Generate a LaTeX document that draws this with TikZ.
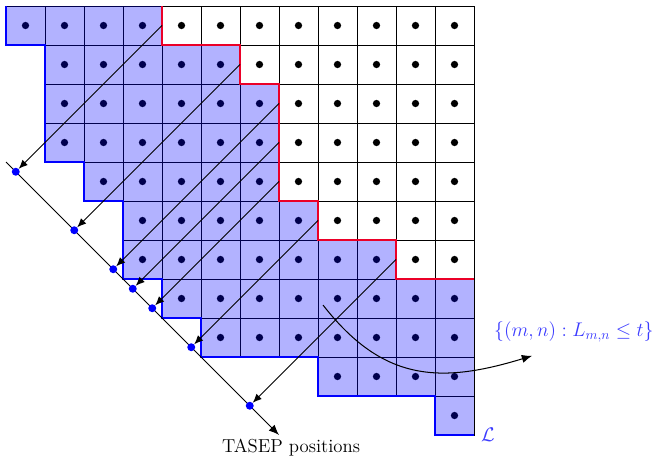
\documentclass[tikz,border=0pt]{standalone}
\usetikzlibrary{calc,arrows.meta}
\definecolor{labelblue}{RGB}{60,60,255}
\definecolor{boundred}{RGB}{235,0,40}
\tikzset{
  cell/.style={draw=black, line width=0.65pt},
  gdot/.style={circle, fill=black, inner sep=0pt, minimum size=5.3pt},
  bdot/.style={circle, fill=blue, inner sep=0pt, minimum size=5.8pt},
  arr/.style={draw=black, line width=0.75pt, -{Latex[length=6.5pt,width=5.5pt]}},
  blueedge/.style={draw=blue, line width=1.1pt},
  rededge/.style={draw=boundred, line width=1.1pt},
  bluelabel/.style={text=labelblue, font=\Large},
}
\begin{document}
\begin{tikzpicture}
\useasboundingbox (-0.154,0.154) rectangle (16.744,-11.564);
% grid of cells with dots
\foreach \j/\s in {0/0,1/1,2/1,3/1,4/2,5/3,6/3,7/4,8/5,9/8,10/11} {
  \foreach \i in {\s,...,11} {
    \draw[cell] (\i,-\j) rectangle ++(1,-1);
    \node[gdot] (g-\i-\j) at (\i+0.5,-\j-0.5) {};
  }
}
% shaded region
\fill[blue, opacity=0.3] (0,0) -- (0,-1) -- (1,-1) -- (1,-4) -- (2,-4) -- (2,-5) -- (3,-5) -- (3,-7) -- (4,-7) -- (4,-8) -- (5,-8) -- (5,-9) -- (8,-9) -- (8,-10) -- (11,-10) -- (11,-11) -- (12,-11)
  -- (12,-7) -- (10,-7) -- (10,-6) -- (8,-6) -- (8,-5) -- (7,-5) -- (7,-2) -- (6,-2) -- (6,-1) -- (4,-1) -- (4,0) -- cycle;
\draw[blueedge] (0,0) -- (0,-1) -- (1,-1) -- (1,-4) -- (2,-4) -- (2,-5) -- (3,-5) -- (3,-7) -- (4,-7) -- (4,-8) -- (5,-8) -- (5,-9) -- (8,-9) -- (8,-10) -- (11,-10) -- (11,-11) -- (12,-11);
\draw[rededge] (4,0) -- (4,-1) -- (6,-1) -- (6,-2) -- (7,-2) -- (7,-5) -- (8,-5) -- (8,-6) -- (10,-6) -- (10,-7) -- (12,-7);
% TASEP line
\coordinate (ts) at (0,-4);
\coordinate (te) at (7,-11);
\draw[line width=0.75pt, -{Latex[length=7.5pt,width=6pt]}] (ts) -- (te);
% arrow starts
\coordinate (s1) at (4,-0.5);
\coordinate (s2) at (6,-1.5);
\coordinate (s3) at (7,-2.5);
\coordinate (s4) at (7,-3.5);
\coordinate (s5) at (7,-4.5);
\coordinate (s6) at (8,-5.5);
\coordinate (s7) at (10,-6.5);
\foreach \k in {1,...,7} {
  \node[bdot] (p\k) at ($(ts)!(s\k)!(te)$) {};
  \draw[arr] (s\k) -- (p\k);
}
% curved arrow to the set label
\coordinate (cs) at (8.13,-7.67);
\coordinate (ce) at (13.49,-8.97);
\draw[line width=0.75pt, -{Latex[length=7.5pt,width=6pt]}] (cs) to[out=-52,in=197,looseness=1.15] (ce);
% labels
\node[bluelabel] (setlbl) at (14.56,-8.36) {$\{(m,n): L_{m,n}\le t\}$};
\node[bluelabel] (Llbl) at (12.36,-11.0) {$\mathcal{L}$};
\node[font={\fontsize{13.7}{16}\selectfont}] (tasep) at (7.31,-11.33) {TASEP positions};
\end{tikzpicture}
\end{document}
